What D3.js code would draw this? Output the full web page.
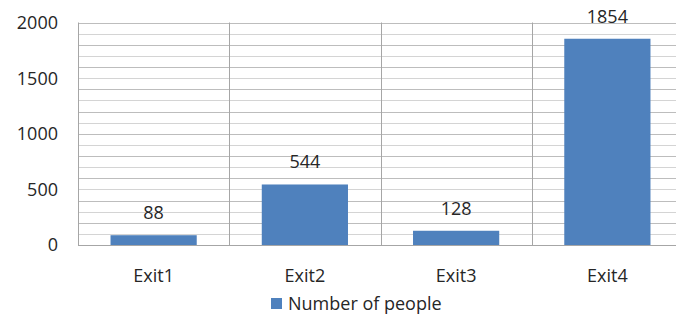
<!DOCTYPE html>
<html>
<head>
<meta charset="utf-8">
<script src="https://cdn.jsdelivr.net/npm/d3@7"></script>
<style>
  html, body { margin: 0; padding: 0; background: #fff; }
  svg { display: block; }
  text { font-family: "Open Sans", "Liberation Sans", sans-serif; fill: #262626; }
</style>
</head>
<body>
<svg id="chart" width="676" height="320"></svg>
<script>
// Exit counts
const categories = ["Exit1", "Exit2", "Exit3", "Exit4"];
const values = [88, 544, 128, 1854];
const seriesName = "Number of people";
const yTicks = [0, 500, 1000, 1500, 2000];
const yMinorStep = 100;

const svg = d3.select("#chart");
const plot = { left: 78, top: 22.5, right: 683, bottom: 245 };

const x = d3.scaleBand()
  .domain(categories)
  .range([plot.left, plot.right])
  .paddingInner(0.43)
  .paddingOuter(0.215);

const xCat = d3.scaleBand()
  .domain(categories)
  .range([plot.left, plot.right]);

const y = d3.scaleLinear()
  .domain([0, 2000])
  .range([plot.bottom, plot.top]);

// horizontal gridlines every 100
const minor = d3.range(yMinorStep, 2000 + 1, yMinorStep);
svg.append("g")
  .selectAll("line")
  .data(minor)
  .join("line")
  .attr("x1", plot.left)
  .attr("x2", plot.right)
  .attr("y1", d => Math.round(y(d)) + 0.5)
  .attr("y2", d => Math.round(y(d)) + 0.5)
  .attr("stroke", (d, i) => (i % 2 === 0 ? "#d4d4d4" : "#bdbdbd"))
  .attr("stroke-width", 1);

// vertical separators between categories
svg.append("g")
  .selectAll("line")
  .data(categories.slice(1))
  .join("line")
  .attr("x1", d => Math.round(xCat(d)) + 0.5)
  .attr("x2", d => Math.round(xCat(d)) + 0.5)
  .attr("y1", plot.top)
  .attr("y2", plot.bottom)
  .attr("stroke", "#a6a6a6");

// axis lines
svg.append("line")
  .attr("x1", plot.left + 0.5).attr("x2", plot.left + 0.5)
  .attr("y1", plot.top).attr("y2", plot.bottom + 0.5)
  .attr("stroke", "#a6a6a6");
svg.append("line")
  .attr("x1", plot.left).attr("x2", plot.right)
  .attr("y1", Math.round(y(0)) + 0.5).attr("y2", Math.round(y(0)) + 0.5)
  .attr("stroke", "#a6a6a6");

// bars
svg.append("g")
  .selectAll("rect")
  .data(categories.map((c, i) => ({ c, v: values[i] })))
  .join("rect")
  .attr("x", d => x(d.c))
  .attr("width", x.bandwidth())
  .attr("y", d => y(d.v))
  .attr("height", d => y(0) - y(d.v))
  .attr("fill", "#4f81bd");

// value labels
svg.append("g")
  .selectAll("text")
  .data(categories.map((c, i) => ({ c, v: values[i] })))
  .join("text")
  .attr("x", d => x(d.c) + x.bandwidth() / 2)
  .attr("y", d => y(d.v) - 16)
  .attr("text-anchor", "middle")
  .attr("font-size", 18)
  .text(d => d.v);

// y tick labels
svg.append("g")
  .selectAll("text")
  .data(yTicks)
  .join("text")
  .attr("x", 58)
  .attr("y", d => y(d))
  .attr("dy", "0.36em")
  .attr("text-anchor", "end")
  .attr("font-size", 18)
  .text(d => d);

// category labels
svg.append("g")
  .selectAll("text")
  .data(categories)
  .join("text")
  .attr("x", d => xCat(d) + xCat.bandwidth() / 2)
  .attr("y", 282)
  .attr("text-anchor", "middle")
  .attr("font-size", 18)
  .text(d => d);

// legend
const legend = svg.append("g").attr("transform", "translate(271,298)");
legend.append("rect").attr("width", 11).attr("height", 11).attr("fill", "#4f81bd");
legend.append("text")
  .attr("x", 17)
  .attr("y", 12)
  .attr("font-size", 18)
  .text(seriesName);
</script>
</body>
</html>
